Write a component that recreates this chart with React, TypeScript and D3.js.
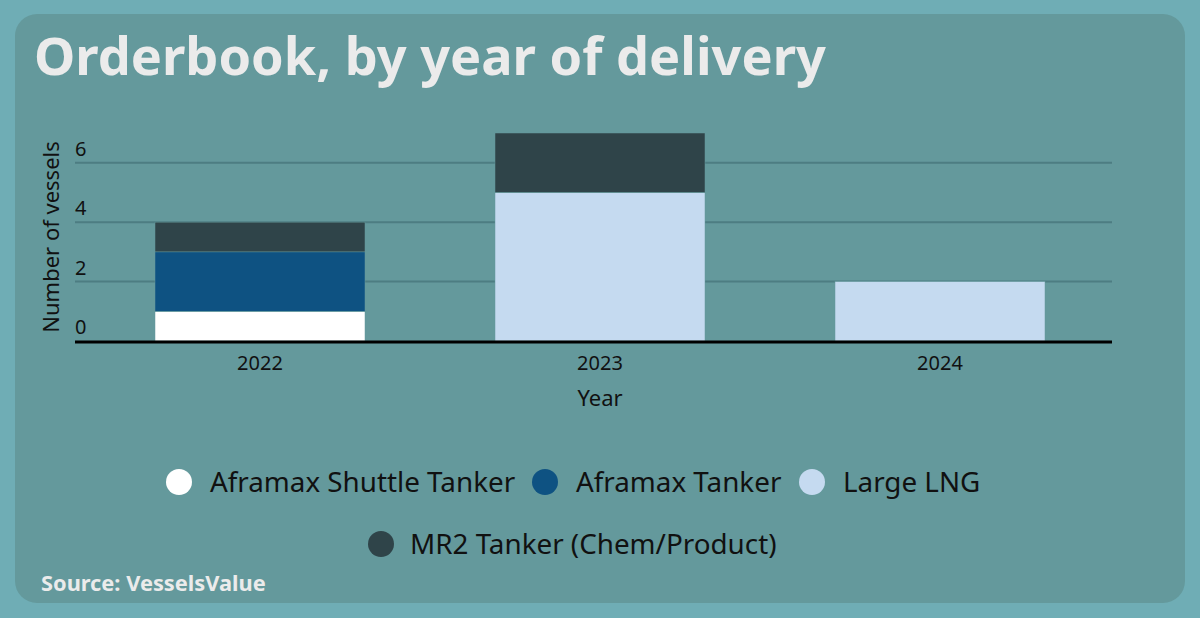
import React from "react";
import * as d3 from "d3";

const years = ["2022", "2023", "2024"];
const seriesNames = ["Aframax Shuttle Tanker", "Aframax Tanker", "Large LNG", "MR2 Tanker (Chem/Product)"];
const seriesColors = ["#ffffff", "#0e5282", "#c5daf0", "#2f4449"];
const shuttleTanker = [1, 0, 0];
const aframaxTanker = [2, 0, 0];
const largeLNG = [0, 5, 2];
const mr2Tanker = [1, 2, 0];
const yTicks = [0, 2, 4, 6];

const W = 1200, H = 618;
const FONT = "'Noto Sans', 'Open Sans', sans-serif";

export default function App() {
  const rows = years.map((y, i) => ({
    year: y,
    [seriesNames[0]]: shuttleTanker[i],
    [seriesNames[1]]: aframaxTanker[i],
    [seriesNames[2]]: largeLNG[i],
    [seriesNames[3]]: mr2Tanker[i],
  }));
  const stack = d3.stack<any>().keys(seriesNames)(rows);
  const x = d3.scaleBand().domain(years).range([90, 1110]).paddingInner(130 / 340).paddingOuter(130 / 340 / 2);
  const y = d3.scaleLinear().domain([0, 7]).range([341, 133]);
  const color = d3.scaleOrdinal<string, string>().domain(seriesNames).range(seriesColors);

  const legendRow1 = [
    { name: seriesNames[0], cx: 179 },
    { name: seriesNames[1], cx: 545 },
    { name: seriesNames[2], cx: 812 },
  ];
  const legendRow2 = [{ name: seriesNames[3], cx: 381 }];

  return (
    <svg width={W} height={H} style={{ position: "absolute", left: 0, top: 0 }}>
      <rect x={0} y={0} width={W} height={H} fill="#6fadb5" />
      <rect x={15} y={14} width={1170} height={589} rx={22} fill="#64999c" />
      <text x={34} y={75} fill="#ebebeb" fontFamily={FONT} fontWeight={700} fontSize={52.3}>
        Orderbook, by year of delivery
      </text>
      {yTicks.map((t) => (
        <g key={t}>
          {t !== 0 && <line x1={75} x2={1112} y1={y(t)} y2={y(t)} stroke="#4d7d82" strokeWidth={2} />}
          <text x={75} y={y(t) - 7} fill="#111" fontFamily={FONT} fontSize={20}>{t}</text>
        </g>
      ))}
      {stack.map((s) => (
        <g key={s.key}>
          {s.map((d, i) =>
            d[1] - d[0] > 0 ? (
              <rect
                key={i}
                x={x(years[i])!}
                y={y(d[1])}
                width={x.bandwidth()}
                height={y(d[0]) - y(d[1])}
                fill={color(s.key)}
                stroke="#64999c"
                strokeWidth={0.5}
              />
            ) : null
          )}
        </g>
      ))}
      <line x1={75} x2={1112} y1={342} y2={342} stroke="#000" strokeWidth={3} />
      {years.map((yr) => (
        <text key={yr} x={x(yr)! + x.bandwidth() / 2} y={370} textAnchor="middle" fill="#111" fontFamily={FONT} fontSize={20}>
          {yr}
        </text>
      ))}
      <text x={600} y={406} textAnchor="middle" fill="#111" fontFamily={FONT} fontSize={22}>Year</text>
      <text transform="translate(59,237) rotate(-90)" textAnchor="middle" fill="#111" fontFamily={FONT} fontSize={22}>
        Number of vessels
      </text>
      {legendRow1.map((l) => (
        <g key={l.name}>
          <circle cx={l.cx} cy={482} r={13} fill={color(l.name)} />
          <text x={l.cx + 31} y={492} fill="#111" fontFamily={FONT} fontSize={27.8}>{l.name}</text>
        </g>
      ))}
      {legendRow2.map((l) => (
        <g key={l.name}>
          <circle cx={l.cx} cy={544} r={13} fill={color(l.name)} />
          <text x={l.cx + 29} y={554} fill="#111" fontFamily={FONT} fontSize={27.8}>{l.name}</text>
        </g>
      ))}
      <text x={41} y={591} fill="#ebebeb" fontFamily={FONT} fontWeight={700} fontSize={21.8}>Source: VesselsValue</text>
    </svg>
  );
}
